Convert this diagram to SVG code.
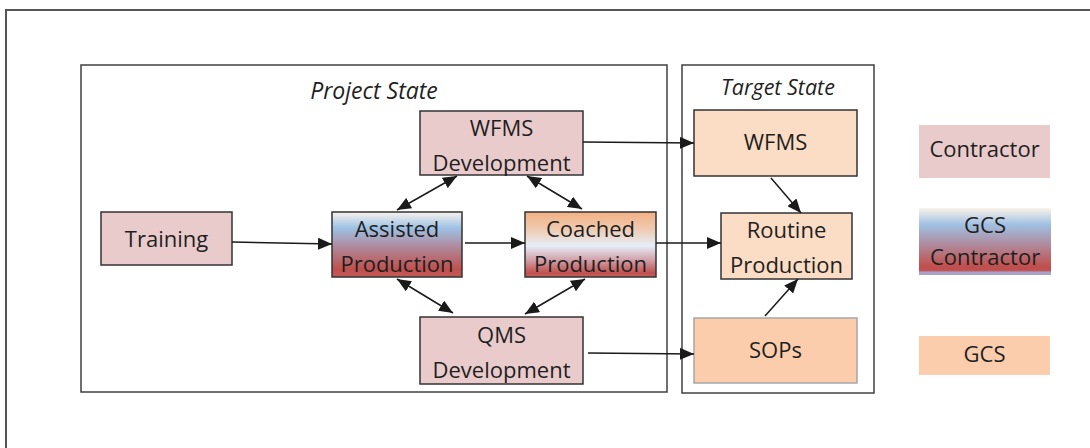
<svg xmlns="http://www.w3.org/2000/svg" width="1090" height="448" viewBox="0 0 1090 448">
  <defs>
    <linearGradient id="gradAssisted" x1="0" y1="0" x2="0" y2="1">
      <stop offset="0" stop-color="#faf2ec"/>
      <stop offset="0.24" stop-color="#9ec3e6"/>
      <stop offset="0.52" stop-color="#ae8ca0"/>
      <stop offset="0.88" stop-color="#c0504d"/>
      <stop offset="1" stop-color="#c55a58"/>
    </linearGradient>
    <linearGradient id="gradCoached" x1="0" y1="0" x2="0" y2="1">
      <stop offset="0" stop-color="#f4b183"/>
      <stop offset="0.25" stop-color="#efc9ae"/>
      <stop offset="0.52" stop-color="#e6edf7"/>
      <stop offset="0.75" stop-color="#d09ca4"/>
      <stop offset="0.94" stop-color="#c0504d"/>
      <stop offset="1" stop-color="#c86060"/>
    </linearGradient>
    <linearGradient id="gradLegendMix" x1="0" y1="0" x2="0" y2="1">
      <stop offset="0" stop-color="#fcf3ea"/>
      <stop offset="0.25" stop-color="#9fc0e3"/>
      <stop offset="0.55" stop-color="#b08a9c"/>
      <stop offset="0.87" stop-color="#c0504d"/>
      <stop offset="0.93" stop-color="#c0504d"/>
      <stop offset="0.96" stop-color="#a9a2c8"/>
      <stop offset="1" stop-color="#a9a2c8"/>
    </linearGradient>
    <marker id="arrow" viewBox="0 0 14 12" refX="14" refY="6" markerWidth="14" markerHeight="12" markerUnits="userSpaceOnUse" orient="auto-start-reverse">
      <path d="M0,0 L14,6 L0,12 z" fill="#1a1a1a"/>
    </marker>
    <style>
      .frame { fill: none; stroke: #404040; stroke-width: 1.5; }
      .node { stroke: #333333; stroke-width: 1.5; }
      .contractor { fill: #e9cbcc; }
      .gcs { fill: #fbcdac; }
      .gcs-light { fill: #fbdcc5; }
      .label { font-family: "Open Sans", "Liberation Sans", sans-serif; font-size: 22px; fill: #1f1f1f; text-anchor: middle; }
      .title { font-family: "Open Sans", "Liberation Sans", sans-serif; font-style: italic; fill: #1f1f1f; text-anchor: middle; }
      .edge { fill: none; stroke: #1a1a1a; stroke-width: 1.5; marker-end: url(#arrow); }
      .both { marker-start: url(#arrow); }
    </style>
  </defs>

  <!-- page frame -->
  <path d="M6,448 V10 H1090" fill="none" stroke="#555555" stroke-width="2"/>

  <!-- state containers -->
  <g id="project-state">
    <rect class="frame" x="81" y="65" width="586" height="327"/>
    <text class="title" x="374" y="99" font-size="23">Project State</text>
  </g>
  <g id="target-state">
    <rect class="frame" x="682" y="65" width="192" height="328"/>
    <text class="title" x="778" y="95" font-size="21.5">Target State</text>
  </g>

  <!-- project state nodes -->
  <g id="training">
    <rect class="node contractor" x="101" y="212" width="131" height="53"/>
    <text class="label" x="166.5" y="247">Training</text>
  </g>
  <g id="wfms-development">
    <rect class="node contractor" x="420" y="111" width="163" height="64"/>
    <text class="label" x="501.5" y="136">WFMS</text>
    <text class="label" x="501.5" y="171">Development</text>
  </g>
  <g id="assisted-production">
    <rect class="node" fill="url(#gradAssisted)" x="332" y="212" width="130" height="65"/>
    <text class="label" x="397" y="237">Assisted</text>
    <text class="label" x="397" y="272">Production</text>
  </g>
  <g id="coached-production">
    <rect class="node" fill="url(#gradCoached)" x="525" y="212" width="131" height="65"/>
    <text class="label" x="590.5" y="237">Coached</text>
    <text class="label" x="590.5" y="272">Production</text>
  </g>
  <g id="qms-development">
    <rect class="node contractor" x="420" y="317" width="163" height="67"/>
    <text class="label" x="501.5" y="343">QMS</text>
    <text class="label" x="501.5" y="378">Development</text>
  </g>

  <!-- target state nodes -->
  <g id="wfms">
    <rect class="node gcs-light" x="694" y="110" width="163" height="66"/>
    <text class="label" x="775.5" y="150">WFMS</text>
  </g>
  <g id="routine-production">
    <rect class="node gcs-light" x="721" y="213" width="131" height="66"/>
    <text class="label" x="786.5" y="238">Routine</text>
    <text class="label" x="786.5" y="273">Production</text>
  </g>
  <g id="sops">
    <rect class="gcs" x="694" y="318" width="163" height="65" stroke="#a6a6a6" stroke-width="1.5"/>
    <text class="label" x="775.5" y="358">SOPs</text>
  </g>

  <!-- legend -->
  <g id="legend-contractor">
    <rect class="contractor" x="919" y="125" width="131" height="53"/>
    <text class="label" x="984.5" y="157">Contractor</text>
  </g>
  <g id="legend-mixed">
    <rect fill="url(#gradLegendMix)" x="919" y="208" width="132" height="67"/>
    <text class="label" x="985" y="233">GCS</text>
    <text class="label" x="985" y="265">Contractor</text>
  </g>
  <g id="legend-gcs">
    <rect class="gcs" x="919" y="336" width="131" height="39"/>
    <text class="label" x="984.5" y="362">GCS</text>
  </g>

  <!-- connectors -->
  <g id="connectors">
    <line class="edge" x1="232" y1="242" x2="332" y2="244"/>
    <line class="edge" x1="465" y1="243" x2="525" y2="243"/>
    <line class="edge" x1="656" y1="243" x2="721" y2="243"/>
    <line class="edge" x1="583" y1="142" x2="694" y2="143"/>
    <line class="edge" x1="588" y1="353" x2="694" y2="354"/>
    <line class="edge" x1="771" y1="178" x2="801" y2="213"/>
    <line class="edge" x1="765" y1="316" x2="798" y2="279"/>
    <line class="edge both" x1="397" y1="210" x2="457" y2="176"/>
    <line class="edge both" x1="527" y1="176" x2="582" y2="209"/>
    <line class="edge both" x1="397" y1="279" x2="453" y2="313"/>
    <line class="edge both" x1="585" y1="279" x2="525" y2="314"/>
  </g>
</svg>
